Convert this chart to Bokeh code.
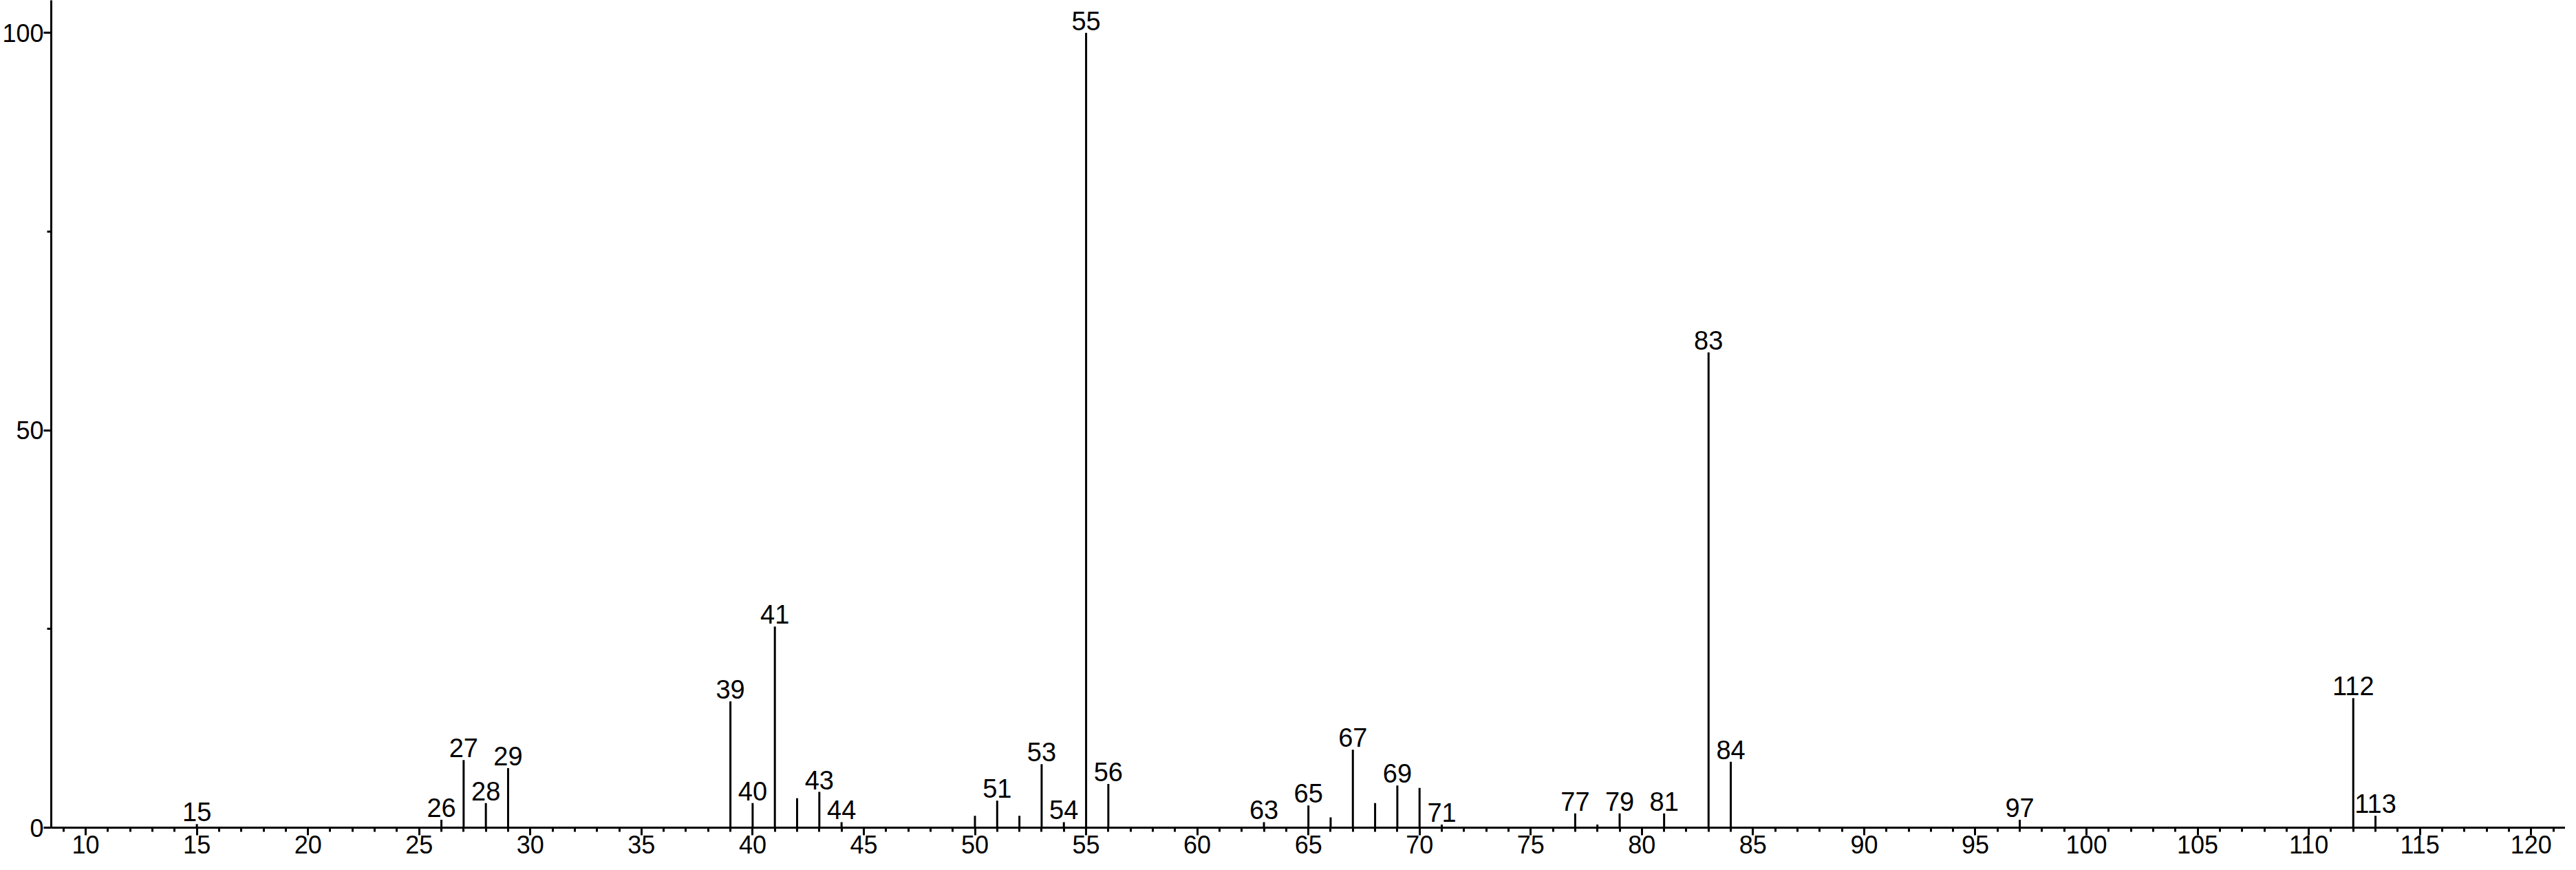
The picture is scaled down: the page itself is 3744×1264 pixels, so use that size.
from bokeh.plotting import figure
from bokeh.models import ColumnDataSource, FixedTicker, Range1d
from bokeh.core.properties import value
from bokeh.embed import file_html
from bokeh.resources import INLINE

# m/z values and relative intensities
mz = [15, 26, 27, 28, 29, 39, 40, 41, 42, 43, 44, 50, 51, 52, 53, 54, 55, 56,
      63, 65, 66, 67, 68, 69, 70, 71, 77, 78, 79, 81, 83, 84, 97, 112, 113]
intensity = [0.45, 1.0, 8.5, 3.1, 7.5, 15.9, 3.1, 25.3, 3.7, 4.5, 0.7, 1.5, 3.4, 1.5, 8.0, 0.7, 100.0, 5.5,
             0.7, 2.8, 1.3, 9.8, 3.1, 5.3, 5.0, 0.4, 1.8, 0.4, 1.8, 1.8, 59.8, 8.3, 1.0, 16.3, 1.5]
labeled = [15, 26, 27, 28, 29, 39, 40, 41, 43, 44, 51, 53, 54, 55, 56, 63, 65, 67, 69, 71,
           77, 79, 81, 83, 84, 97, 112, 113]

x_ticks = list(range(10, 121, 5))
x_minor = list(range(9, 122))
y_ticks = [0, 50, 100]
y_minor = [25, 75]

FONT = "Liberation Sans"

src = ColumnDataSource(dict(x=mz, y0=[0] * len(mz), y=intensity))
lab_y = [intensity[mz.index(m)] for m in labeled]
lab_src = ColumnDataSource(dict(x=labeled, y=lab_y, t=[str(m) for m in labeled]))

p = figure(width=3728, height=1248, output_backend="svg", toolbar_location=None,
           x_range=Range1d(8.45, 121.54), y_range=Range1d(0, 104.1),
           min_border_left=0, min_border_right=0, min_border_top=0, min_border_bottom=46)
p.outline_line_color = None
p.xgrid.visible = False
p.ygrid.visible = False
p.background_fill_color = "white"

p.segment(x0="x", y0="y0", x1="x", y1="y", source=src, line_color="black", line_width=3)
p.text(x="x", y="y", text="t", source=lab_src, text_align="center", text_baseline="bottom",
       y_offset=-4, text_font=value(FONT), text_font_size="38px", text_color="black")

for ax in (p.xaxis[0], p.yaxis[0]):
    ax.axis_line_width = 3
    ax.axis_line_color = "black"
    ax.major_tick_line_width = 3
    ax.minor_tick_line_width = 3
    ax.major_tick_in = 0
    ax.minor_tick_in = 0
    ax.major_tick_out = 11
    ax.minor_tick_out = 6
    ax.major_label_text_font = FONT
    ax.major_label_text_font_size = "36px"
    ax.major_label_text_color = "black"
    ax.major_label_standoff = 0

p.xaxis[0].ticker = FixedTicker(ticks=x_ticks, minor_ticks=x_minor)
p.yaxis[0].ticker = FixedTicker(ticks=y_ticks, minor_ticks=y_minor)

open("out.html", "w").write(file_html(p, INLINE))
